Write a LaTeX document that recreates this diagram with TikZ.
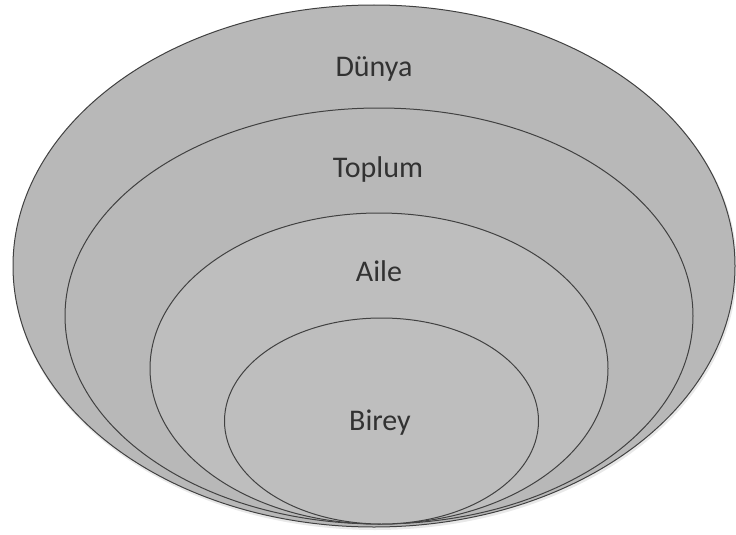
\documentclass[tikz,border=0pt]{standalone}
\usepackage{fontspec}
\setmainfont{Carlito}
\definecolor{fillgray}{RGB}{184,184,184}
\definecolor{innergray}{RGB}{190,190,190}
\definecolor{linegray}{RGB}{65,65,65}
\definecolor{textgray}{RGB}{50,50,50}
\begin{document}
\begin{tikzpicture}[x=1pt,y=-1pt,
  ring/.style={fill=fillgray,draw=linegray,line width=1pt},
  lbl/.style={text=textgray,font=\fontsize{30}{34}\selectfont,inner sep=0pt}]
\useasboundingbox (0,0) rectangle (736,535);
\fill[gray!35,opacity=0.5] (375,268) ellipse [x radius=362, y radius=262];
\draw[ring] (374,266) ellipse [x radius=361, y radius=261];
\draw[ring] (379,316) ellipse [x radius=314, y radius=208];
\draw[ring,fill=innergray] (379,368.5) ellipse [x radius=229, y radius=155.5];
\draw[ring,fill=innergray] (381.5,421) ellipse [x radius=157, y radius=103];
\node[lbl] (dunya) at (374,69) {Dünya};
\node[lbl] (toplum) at (378,170) {Toplum};
\node[lbl] (aile) at (379,271) {Aile};
\node[lbl] (birey) at (380,423) {Birey};
\end{tikzpicture}
\end{document}
